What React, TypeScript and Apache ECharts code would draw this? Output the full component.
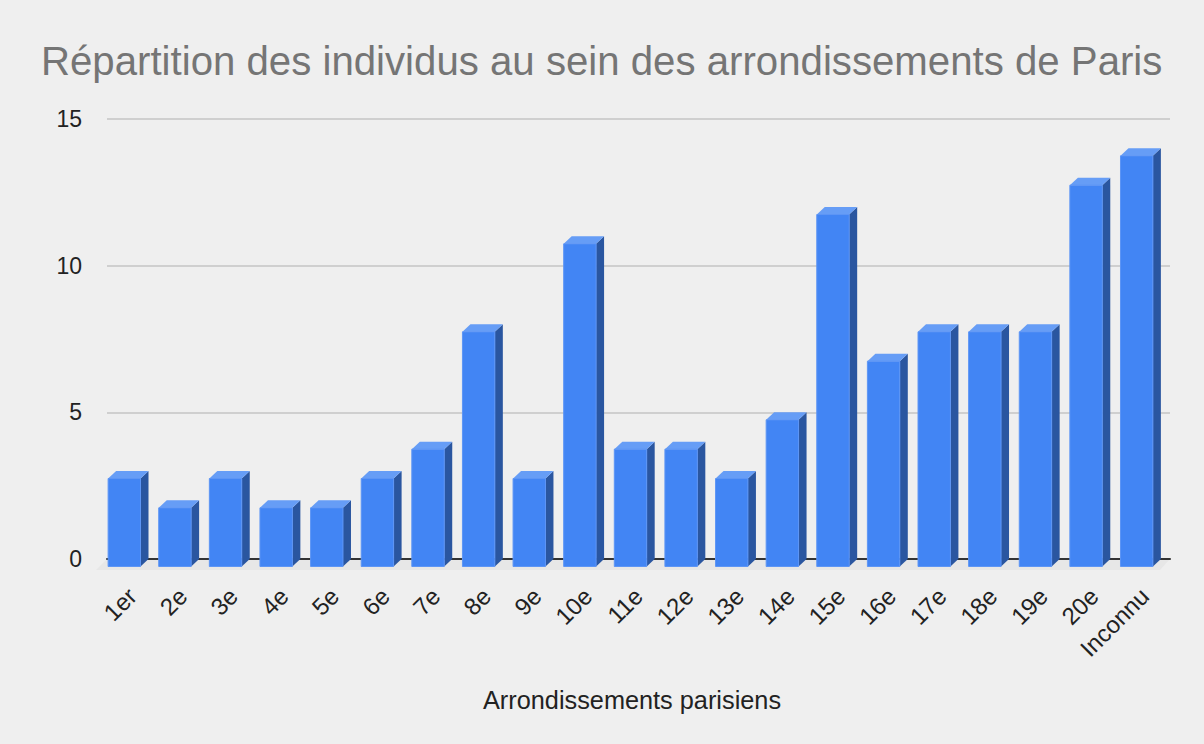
import React, { useEffect, useRef } from "react";
import * as echarts from "echarts";

const categories = ["1er", "2e", "3e", "4e", "5e", "6e", "7e", "8e", "9e", "10e", "11e", "12e", "13e", "14e", "15e", "16e", "17e", "18e", "19e", "20e", "Inconnu"];
const values = [3, 2, 3, 2, 2, 3, 4, 8, 3, 11, 4, 4, 3, 5, 12, 7, 8, 8, 8, 13, 14];
const yTicks = { min: 0, max: 15, interval: 5 };
const titleText = "Répartition des individus au sein des arrondissements de Paris";
const xAxisTitle = "Arrondissements parisiens";

const FONT = "'Liberation Sans', Arial, sans-serif";
const FRONT = "#4285f4";
const TOP = "#669df6";
const SIDE = "#2a56a0";
const EDGE = "#5d95f5";

export default function App() {
  const ref = useRef<HTMLDivElement>(null);
  useEffect(() => {
    if (!ref.current) return;
    const chart = echarts.init(ref.current, undefined, { renderer: "svg" });
    const dx = 8;
    const dy = 7.5;
    chart.setOption({
      animation: false,
      backgroundColor: "#efefef",
      title: {
        text: titleText,
        left: 41,
        top: 41,
        padding: 0,
        textStyle: { fontFamily: FONT, fontSize: 40.2, fontWeight: "normal", color: "#757575" },
      },
      grid: { left: 107, right: 34, top: 119, bottom: 185 },
      xAxis: {
        type: "category",
        data: categories,
        axisLine: { lineStyle: { color: "#333333", width: 2 } },
        axisTick: { show: false },
        axisLabel: { rotate: 45, margin: 33, fontFamily: FONT, fontSize: 24, color: "#222222", interval: 0 },
        splitLine: { show: false },
      },
      yAxis: {
        type: "value",
        min: yTicks.min,
        max: yTicks.max,
        interval: yTicks.interval,
        axisLine: { show: false },
        axisTick: { show: false },
        axisLabel: { margin: 25, fontFamily: FONT, fontSize: 23, color: "#222222" },
        splitLine: { lineStyle: { color: "#c4c4c4", width: 1.5 } },
      },
      graphic: [
        {
          type: "polygon",
          z: -10,
          silent: true,
          shape: { points: [[107, 559], [1170, 559], [1160, 570], [96, 570]] },
          style: { fill: "#e7e7e7" },
        },
        {
          type: "text",
          x: 632,
          y: 700,
          style: {
            text: xAxisTitle,
            fontFamily: FONT,
            fontSize: 25.3,
            fill: "#222222",
            align: "center",
            verticalAlign: "middle",
          },
        },
      ],
      series: [
        {
          type: "custom",
          data: values.map((v, i) => [i, v]),
          encode: { x: 0, y: 1 },
          renderItem: (params: any, api: any) => {
            const idx = api.value(0);
            const v = api.value(1);
            const p = api.coord([idx, v]);
            const b = api.coord([idx, 0]);
            const w = api.size([1, 0])[0] * 0.64;
            const bl = p[0] - w / 2;
            const br = p[0] + w / 2;
            const top = p[1];
            const by = b[1];
            return {
              type: "group",
              children: [
                {
                  type: "polygon",
                  shape: { points: [[br - dx, top + dy], [br, top], [br, by], [br - dx, by + dy]] },
                  style: { fill: SIDE },
                },
                {
                  type: "polygon",
                  shape: { points: [[bl - dx, top + dy], [bl, top], [br, top], [br - dx, top + dy]] },
                  style: { fill: TOP },
                },
                {
                  type: "rect",
                  shape: { x: bl - dx, y: top + dy, width: w, height: by - top },
                  style: { fill: FRONT, stroke: EDGE, lineWidth: 1 },
                },
              ],
            };
          },
        },
      ],
    });
    return () => chart.dispose();
  }, []);
  return (
    <div
      ref={ref}
      style={{ position: "absolute", left: 0, top: 0, width: 1204, height: 744 }}
    />
  );
}
